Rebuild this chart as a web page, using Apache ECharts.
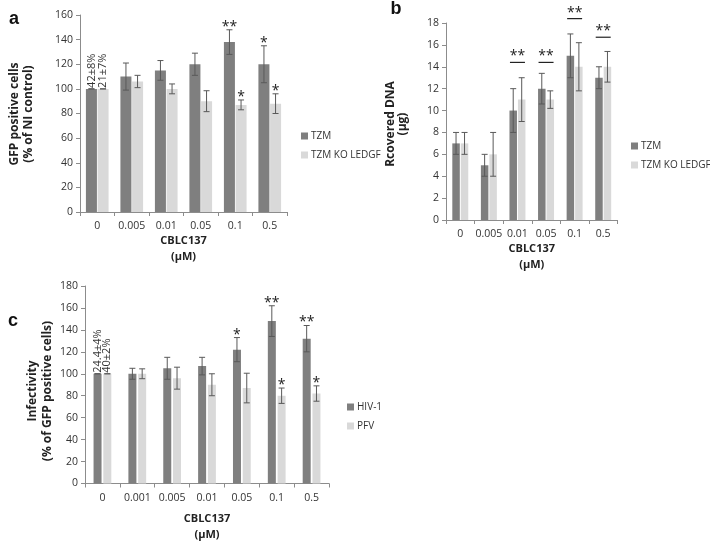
<!DOCTYPE html>
<html><head><meta charset="utf-8">
<script src="https://cdn.jsdelivr.net/npm/echarts@6/dist/echarts.min.js"></script>
<style>html,body{margin:0;padding:0;background:#fff}#c{width:710px;height:542px}</style>
</head><body><div id="c"></div>
<script>
// ---------- Panel a ----------
const aCategories = ['0', '0.005', '0.01', '0.05', '0.1', '0.5'];
const aTzm      = [100, 110, 115, 120, 138, 120];
const aTzmErr   = [0, 11, 8, 9, 10, 15];
const aKo       = [100, 106, 100, 90, 87, 88];
const aKoErr    = [0, 5, 4, 8.5, 4, 8];
const aTzmStars = ['', '', '', '', '**', '*'];
const aKoStars  = ['', '', '', '', '*', '*'];
const aTzmNote  = ['42±8%', '', '', '', '', ''];
const aKoNote   = ['21±7%', '', '', '', '', ''];
const aYMax = 160, aYStep = 20;

// ---------- Panel b ----------
const bCategories = ['0', '0.005', '0.01', '0.05', '0.1', '0.5'];
const bTzm      = [7, 5, 10, 12, 15, 13];
const bTzmErr   = [1, 1, 2, 1.4, 2, 1];
const bKo       = [7, 6, 11, 11, 14, 14];
const bKoErr    = [1, 2, 2, 0.8, 2.2, 1.4];
const bSigLevel = [null, null, 14.4, 14.4, 18.4, 16.7];
const bSigStars = ['', '', '**', '**', '**', '**'];
const bYMax = 18, bYStep = 2;

// ---------- Panel c ----------
const cCategories = ['0', '0.001', '0.005', '0.01', '0.05', '0.1', '0.5'];
const cHiv      = [100, 100, 105, 107, 122, 148, 132];
const cHivErr   = [0, 5, 10, 8, 11, 14, 12];
const cPfv      = [100, 100, 96, 90, 87, 80, 82];
const cPfvErr   = [0, 4.5, 10, 10, 13.5, 7, 7];
const cHivStars = ['', '', '', '', '*', '**', '**'];
const cPfvStars = ['', '', '', '', '', '*', '*'];
const cHivNote  = ['24.4±4%', '', '', '', '', '', ''];
const cPfvNote  = ['40±2%', '', '', '', '', '', ''];
const cYMax = 180, cYStep = 20;

// ---------- styling ----------
const FONT = 'Open Sans';
const DARK = '#7f7f7f', LIGHT = '#d9d9d9', ERR = '#595959', AXIS = '#8c8c8c', TXT = '#333';

function xAxisCfg(grid, cats, nameGap) {
  return {
    type: 'category', gridIndex: grid, data: cats,
    axisLine: { lineStyle: { color: AXIS, width: 1 } },
    axisTick: { show: true, length: 4, lineStyle: { color: AXIS } },
    axisLabel: { interval: 0, fontSize: 10.5, color: TXT, fontFamily: FONT, margin: 9 },
    name: 'CBLC137\n(µM)', nameLocation: 'middle', nameGap: nameGap,
    nameTextStyle: { fontWeight: 'bold', fontSize: 11, color: '#222', fontFamily: FONT, lineHeight: 16 }
  };
}
function yAxisCfg(grid, max, step) {
  return {
    type: 'value', gridIndex: grid, min: 0, max: max, interval: step,
    axisLine: { show: true, lineStyle: { color: AXIS, width: 1 } },
    axisTick: { show: true, length: 4, lineStyle: { color: AXIS } },
    splitLine: { show: false },
    axisLabel: { fontSize: 10.5, color: TXT, fontFamily: FONT, margin: 7 }
  };
}
function barSeries(name, grid, data, color, width, gap) {
  return {
    type: 'bar', name: name, xAxisIndex: grid, yAxisIndex: grid, data: data,
    barWidth: width, barGap: gap, itemStyle: { color: color }, silent: true, z: 2
  };
}
function errSeries(grid, values, errs, stars, notes, offset) {
  return {
    type: 'custom', xAxisIndex: grid, yAxisIndex: grid, silent: true, z: 5,
    data: values.map((v, i) => [i, v, errs[i]]),
    encode: { x: 0, y: 1 },
    renderItem: function (params, api) {
      const i = api.value(0), v = api.value(1), e = api.value(2);
      const top = api.coord([i, v + e]);
      const bot = api.coord([i, v - e]);
      const barTop = api.coord([i, v]);
      const x = top[0] + offset, cap = 3;
      const children = [
        { type: 'line', shape: { x1: x, y1: top[1], x2: x, y2: bot[1] }, style: { stroke: ERR, lineWidth: 1 } },
        { type: 'line', shape: { x1: x - cap, y1: top[1], x2: x + cap, y2: top[1] }, style: { stroke: ERR, lineWidth: 1 } },
        { type: 'line', shape: { x1: x - cap, y1: bot[1], x2: x + cap, y2: bot[1] }, style: { stroke: ERR, lineWidth: 1 } }
      ];
      const s = stars ? stars[params.dataIndex] : '';
      if (s) children.push({ type: 'text', x: x, y: top[1] - 3,
        style: { text: s, fontSize: 14, fontFamily: FONT, fill: '#222', align: 'center', verticalAlign: 'middle' } });
      const n = notes ? notes[params.dataIndex] : '';
      if (n) children.push({ type: 'text', x: x, y: barTop[1] - 1, rotation: Math.PI / 2,
        style: { text: n, fontSize: 11, fontFamily: FONT, fill: TXT, align: 'left', verticalAlign: 'middle' } });
      return { type: 'group', children: children };
    }
  };
}
function sigSeries(grid, levels, stars, halfWidth) {
  return {
    type: 'custom', xAxisIndex: grid, yAxisIndex: grid, silent: true, z: 5,
    data: levels.map((v, i) => [i, v]).filter(d => d[1] != null),
    encode: { x: 0, y: 1 },
    renderItem: function (params, api) {
      const i = api.value(0), v = api.value(1);
      const p = api.coord([i, v]);
      return { type: 'group', children: [
        { type: 'line', shape: { x1: p[0] - halfWidth, y1: p[1], x2: p[0] + halfWidth, y2: p[1] }, style: { stroke: '#222', lineWidth: 1.2 } },
        { type: 'text', x: p[0], y: p[1] - 6,
          style: { text: stars[i], fontSize: 14, fontFamily: FONT, fill: '#222', align: 'center', verticalAlign: 'middle' } }
      ] };
    }
  };
}
function rotText(x, y, text, size, lh) {
  return { type: 'text', x: x, y: y, rotation: Math.PI / 2,
    style: { text: text, fontSize: size, fontWeight: 'bold', fontFamily: FONT, fill: '#222',
             align: 'center', verticalAlign: 'middle', lineHeight: lh } };
}
function letter(x, y, t) {
  return { type: 'text', x: x, y: y,
    style: { text: t, fontSize: 18, fontWeight: 'bold', fontFamily: 'Liberation Sans', fill: '#111', align: 'center', verticalAlign: 'middle' } };
}
function legendCfg(names, left, top) {
  return {
    data: names, orient: 'vertical', left: left, top: top, icon: 'rect',
    itemWidth: 7, itemHeight: 7, itemGap: 9, selectedMode: false,
    textStyle: { fontSize: 10, color: TXT, fontFamily: FONT, padding: [0, 0, 0, -2] }
  };
}

const option = {
  animation: false,
  backgroundColor: '#fff',
  grid: [
    { left: 80, top: 15, width: 207, height: 197, outerBoundsMode: 'none' },
    { left: 446, top: 23, width: 171.5, height: 197, outerBoundsMode: 'none' },
    { left: 85, top: 286, width: 244, height: 197.5, outerBoundsMode: 'none' }
  ],
  xAxis: [ xAxisCfg(0, aCategories, 19), xAxisCfg(1, bCategories, 20), xAxisCfg(2, cCategories, 27) ],
  yAxis: [ yAxisCfg(0, aYMax, aYStep), yAxisCfg(1, bYMax, bYStep), yAxisCfg(2, cYMax, cYStep) ],
  legend: [
    legendCfg(['TZM', 'TZM KO LEDGF'], 296, 126),
    legendCfg(['TZM', 'TZM KO LEDGF'], 626, 136),
    legendCfg(['HIV-1', 'PFV'], 342, 397)
  ],
  graphic: [
    letter(14, 19, 'a'), letter(396, 9, 'b'), letter(13, 321, 'c'),
    rotText(22, 114, 'GFP positive cells\n(% of NI control)', 12, 14),
    rotText(397, 124, 'Rcovered DNA\n(µg)', 12, 12),
    rotText(40, 391, 'Infectivity\n(% of GFP positive cells)', 12, 15)
  ],
  series: [
    barSeries('TZM', 0, aTzm, DARK, 11, '6%'),
    barSeries('TZM KO LEDGF', 0, aKo, LIGHT, 11, '6%'),
    errSeries(0, aTzm, aTzmErr, aTzmStars, aTzmNote, -5.8),
    errSeries(0, aKo, aKoErr, aKoStars, aKoNote, 5.8),

    barSeries('TZM', 1, bTzm, DARK, 7.5, '13%'),
    barSeries('TZM KO LEDGF', 1, bKo, LIGHT, 7.5, '13%'),
    errSeries(1, bTzm, bTzmErr, null, null, -4.25),
    errSeries(1, bKo, bKoErr, null, null, 4.25),
    sigSeries(1, bSigLevel, bSigStars, 7.5),

    barSeries('HIV-1', 2, cHiv, DARK, 8, '22%'),
    barSeries('PFV', 2, cPfv, LIGHT, 8, '22%'),
    errSeries(2, cHiv, cHivErr, cHivStars, cHivNote, -4.9),
    errSeries(2, cPfv, cPfvErr, cPfvStars, cPfvNote, 4.9)
  ]
};
const chart = echarts.init(document.getElementById('c'), null, { renderer: 'canvas' });
chart.setOption(option);
</script></body></html>
